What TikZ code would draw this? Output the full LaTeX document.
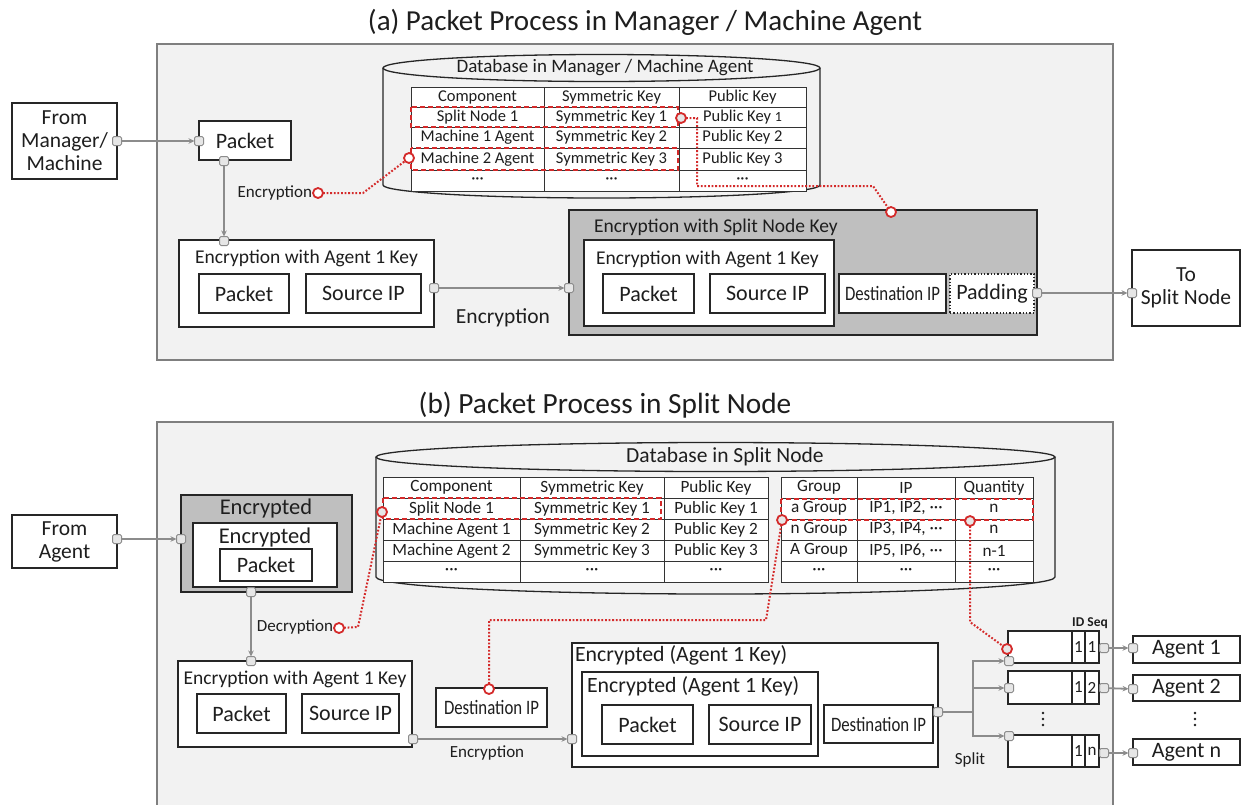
\documentclass[tikz,border=0pt]{standalone}
\usepackage{fontspec}
\setmainfont{Carlito}
\newfontfamily\narrowfont[FakeStretch=0.82]{Carlito}
\usetikzlibrary{arrows.meta}
\definecolor{framebg}{HTML}{F2F2F2}
\definecolor{frameln}{HTML}{7F7F7F}
\definecolor{greybox}{HTML}{BFBFBF}
\definecolor{portfill}{HTML}{E6E6E6}
\definecolor{portln}{HTML}{8C8C8C}
\definecolor{connln}{HTML}{8C8C8C}
\definecolor{keyred}{HTML}{D42A2A}
\definecolor{ink}{HTML}{1E1E1E}
\newcommand\fsz[2]{\fontsize{#1}{#2}\selectfont}
\newcommand\smallone{{\fsz{14}{14}1}}
% box from its top-left (x1,y1) to its bottom-right (x2,y2)
\newcommand\mkbox[7]{\node[#6, anchor=north west, minimum width={(#4-#2)*1pt}, minimum height={(#5-#3)*1pt}] (#1) at (#2,#3) {#7};}
\begin{document}
\begin{tikzpicture}[x=1pt,y=-1pt,
  every node/.style={text=ink, inner sep=0pt, outer sep=0pt},
  frame/.style={draw=frameln, line width=2pt, fill=framebg},
  box/.style={draw=black!85, line width=1.3pt, fill=white, font=\fsz{22}{25}},
  gbox/.style={box, fill=greybox},
  padbox/.style={box, dotted, line width=1.4pt},
  port/.style={draw=portln, line width=1pt, fill=portfill, minimum size=9pt, rounded corners=1.5pt},
  conn/.style={draw=connln, line width=1.8pt, -{Stealth[length=6pt,width=5.5pt]}},
  plain/.style={draw=connln, line width=1.8pt},
  rdot/.style={circle, draw=keyred, line width=1.8pt, fill=portfill, minimum size=10pt},
  rlink/.style={draw=keyred, line width=2pt, dash pattern=on 1.8pt off 1.8pt},
  rsel/.style={draw=keyred, line width=1.8pt, dash pattern=on 5pt off 3pt},
  tbl/.style={draw=black!80, line width=1pt},
  cyl/.style={draw=black!85, line width=1.3pt, fill=framebg},
  cell/.style={font=\fsz{16.5}{18}},
  cellb/.style={font=\fsz{17.2}{19}},
  lbl/.style={font=\fsz{17}{20}},
  ttl/.style={font=\fsz{19.5}{23}},
  dst/.style={box, font=\narrowfont\fsz{20.5}{23}},
  ellipsisdot/.style={circle, fill=ink, minimum size=2.6pt},
]
\useasboundingbox (0,0) rectangle (1241,804);
\clip (0,0) rectangle (1241,804);
\fill[white] (0,0) rectangle (1241,804);

%% ---------------- (a) Manager / Machine Agent ----------------
\node[font=\fsz{29}{33}] (titleA) at (645,22) {(a) Packet Process in Manager / Machine Agent};
\draw[frame] (157,44) rectangle (1113,360);

% database cylinder
\draw[cyl] (383,68) -- (383,185) .. controls (383,192.2) and (480.8,198) .. (601.5,198)
  .. controls (722.2,198) and (820,192.2) .. (820,185) -- (820,68);
\draw[cyl] (601.5,68) ellipse [x radius=218.5, y radius=13.5];
\node[font=\fsz{19}{22}] (dbA) at (605,68) {Database in Manager / Machine Agent};
\draw[tbl, fill=white] (411,87) rectangle (806,191);
\foreach \xx in {544,679} \draw[tbl] (\xx,87) -- (\xx,191);
\foreach \yy in {107,127,148,170} \draw[tbl] (411,\yy) -- (806,\yy);
\foreach \yy/\ca/\cb/\cc [count=\i] in {
  97/Component/Symmetric Key/Public Key,
  117/Split Node 1/Symmetric Key 1/Public Key \smallone,
  137.5/Machine 1 Agent/Symmetric Key 2/Public Key 2,
  159/Machine 2 Agent/Symmetric Key 3/Public Key 3,
  180.5/···/···/···}{
  \node[cell] (ka-\i-a) at (477.5,\yy) {\ca};
  \node[cell] (ka-\i-b) at (611.5,\yy) {\cb};
  \node[cell] (ka-\i-c) at (742.5,\yy) {\cc};
}
\draw[rsel] (411,107) rectangle (678,127);
\draw[rsel] (411,148) rectangle (678,170);

% boxes
\mkbox{fromA}{12}{103}{117}{179}{box, align=center, font=\fsz{21.5}{23}}{From\\Manager/\\Machine}
\mkbox{pkA}{199}{121}{291}{160}{box}{Packet}
\mkbox{encA}{179}{240}{434}{327}{box}{}
\node[ttl] (encAt) at (306.5,258) {Encryption with Agent 1 Key};
\mkbox{encApk}{199}{274}{289}{313}{box}{Packet}
\mkbox{encAsrc}{306}{274}{421}{313}{box}{Source IP}

\mkbox{snk}{569}{210}{1037}{335}{gbox}{}
\node[ttl, anchor=west] (snkt) at (594,227) {Encryption with Split Node Key};
\mkbox{snkin}{584}{240}{834}{326}{box}{}
\node[ttl, anchor=west] (snkint) at (596,259) {Encryption with Agent 1 Key};
\mkbox{snkpk}{603}{274}{694}{313}{box}{Packet}
\mkbox{snksrc}{710}{274}{825}{313}{box}{Source IP}
\mkbox{snkdst}{839}{274}{946}{313}{dst}{Destination IP}
\mkbox{snkpad}{950}{274}{1034}{313}{padbox}{Padding}
\mkbox{toSN}{1132}{250}{1240}{326}{box, align=center, font=\fsz{21.5}{23}}{To\\Split Node}

% ports and flow
\node[port] (pA1) at (117,141) {};
\node[port] (pA2) at (199,141) {};
\node[port] (pA3) at (224,161) {};
\node[port] (pA4) at (224,241) {};
\node[port] (pA5) at (434,288) {};
\node[port] (pA6) at (569,288) {};
\node[port] (pA7) at (1037,293) {};
\node[port] (pA8) at (1132,293) {};
\draw[conn] (pA1) -- (pA2);
\draw[conn] (pA3) -- (pA4);
\draw[conn] (pA5) -- (pA6);
\draw[conn] (pA7) -- (pA8);
\node[font=\fsz{21.5}{24}] (encLblA) at (503,318) {Encryption};
\node[lbl, anchor=east] (encLblA2) at (312,193) {Encryption};

% key lookups
\node[rdot, fill=white] (rA1) at (318,193) {};
\node[rdot, fill=white] (rA2) at (409,158) {};
\node[rdot] (rA3) at (681,118) {};
\node[rdot, fill=white] (rA4) at (891,212) {};
\coordinate (bA1) at (363,193);
\coordinate (bA2) at (697,118);
\coordinate (bA3) at (697,186);
\coordinate (bA4) at (873,186);
\draw[rlink] (rA1) -- (bA1) -- (rA2);
\draw[rlink] (rA3) -- (bA2) -- (bA3) -- (bA4) -- (rA4);

%% ---------------- (b) Split Node ----------------
\node[font=\fsz{29.3}{33}] (titleB) at (605,405) {(b) Packet Process in Split Node};
\draw[frame] (157,422) rectangle (1113,840);

% database cylinder
\draw[cyl] (376,457) -- (376,577) .. controls (376,586.4) and (528,594) .. (715.5,594)
  .. controls (903,594) and (1055,586.4) .. (1055,577) -- (1055,457);
\draw[cyl] (715.5,457) ellipse [x radius=339.5, y radius=14.5];
\node[font=\fsz{21.5}{24}] (dbB) at (725,457) {Database in Split Node};
\draw[tbl, fill=white] (383,477) rectangle (768,582);
\foreach \xx in {520,664} \draw[tbl] (\xx,477) -- (\xx,582);
\draw[tbl, fill=white] (781,477) rectangle (1033,582);
\foreach \xx in {857,955} \draw[tbl] (\xx,477) -- (\xx,582);
\foreach \yy in {498,519,540,561} {
  \draw[tbl] (383,\yy) -- (768,\yy);
  \draw[tbl] (781,\yy) -- (1033,\yy);
}
\foreach \yy/\ca/\cb/\cc [count=\i] in {
  487.5/Component/Symmetric Key/Public Key,
  508.5/Split Node 1/Symmetric Key 1/Public Key 1,
  529.5/Machine Agent 1/Symmetric Key 2/Public Key 2,
  550.5/Machine Agent 2/Symmetric Key 3/Public Key 3,
  571.5/···/···/···}{
  \node[cellb] (kb-\i-a) at (451.5,\yy) {\ca};
  \node[cellb] (kb-\i-b) at (592,\yy) {\cb};
  \node[cellb] (kb-\i-c) at (716,\yy) {\cc};
}
\foreach \yy/\ca/\cb/\cc [count=\i] in {
  487.5/Group/IP/Quantity,
  508.5/a Group/{IP1, IP2, ···}/n,
  529.5/n Group/{IP3, IP4, ···}/n,
  550.5/A Group/{IP5, IP6, ···}/n-1,
  571.5/···/···/···}{
  \node[cellb] (gb-\i-a) at (819,\yy) {\ca};
  \node[cellb] (gb-\i-b) at (906,\yy) {\cb};
  \node[cellb] (gb-\i-c) at (994,\yy) {\cc};
}
\draw[rsel] (383,498) rectangle (661,519);
\draw[rsel] (781,499) rectangle (1033,520);

% boxes
\mkbox{fromB}{12}{515}{117}{568}{box, align=center, font=\fsz{21.5}{23}}{From\\Agent}
\mkbox{encB}{181}{495}{352}{592}{gbox}{}
\node[font=\fsz{22.5}{25}] (encBt) at (266,508) {Encrypted};
\mkbox{encBin}{193}{523}{337}{587}{box}{}
\node[font=\fsz{22.5}{25}] (encBint) at (265,537) {Encrypted};
\mkbox{encBpk}{220}{549}{312}{581}{box}{Packet}

\mkbox{a1B}{178}{661}{412}{747}{box}{}
\node[ttl] (a1Bt) at (295,679) {Encryption with Agent 1 Key};
\mkbox{a1Bpk}{197}{694}{286}{733}{box}{Packet}
\mkbox{a1Bsrc}{302}{694}{399}{733}{box}{Source IP}

\mkbox{dstB}{436}{688}{547}{727}{dst}{Destination IP}

\mkbox{outB}{572}{643}{938}{767}{box}{}
\node[font=\fsz{21.8}{24}, anchor=west] (outBt) at (575,655) {Encrypted (Agent 1 Key)};
\mkbox{outBin}{582}{672}{818}{756}{box}{}
\node[font=\fsz{21.8}{24}, anchor=west] (outBint) at (587,686) {Encrypted (Agent 1 Key)};
\mkbox{outBpk}{602}{705}{693}{744}{box}{Packet}
\mkbox{outBsrc}{709}{705}{811}{744}{box}{Source IP}
\mkbox{outBdst}{824}{705}{933}{743}{dst}{Destination IP}

% per-agent queues with ID and sequence number
\foreach \nm/\ya/\yb/\sq in {q1/631/663/1, q2/671/704/2, q3/735/767/n} {
  \mkbox{\nm}{1008}{\ya}{1099}{\yb}{box}{}
  \draw[line width=1.3pt, draw=black!85] (1072,\ya) -- (1072,\yb) (1085,\ya) -- (1085,\yb);
  \node[font=\fsz{17}{19}] (\nm-id) at (1078.5,{(\ya+\yb)/2}) {1};
  \node[font=\fsz{17}{19}] (\nm-sq) at (1092,{(\ya+\yb)/2}) {\sq};
}
\node[font=\bfseries\fsz{13.5}{15}] (idseq) at (1090,623) {ID Seq};
% vertical ellipses between the queues and between the agents
\foreach \xx/\tag in {1043/q, 1195/ag} {
  \foreach \yy [count=\k] in {713,719,725}
    \node[ellipsisdot] (vd-\tag-\k) at (\xx,\yy) {};
}

\mkbox{ag1}{1133}{636}{1240}{663}{box}{Agent 1}
\mkbox{ag2}{1133}{675}{1240}{701}{box}{Agent 2}
\mkbox{agn}{1133}{739}{1240}{765}{box}{Agent n}

% ports and flow
\node[port] (pB1) at (117,539) {};
\node[port] (pB2) at (181,539) {};
\node[port] (pB3) at (251,592) {};
\node[port] (pB4) at (251,661) {};
\node[port] (pB5) at (413,739) {};
\node[port] (pB6) at (572,739) {};
\node[port] (pB7) at (938,712) {};
\node[port] (pq1i) at (1009,661) {};
\node[port] (pq2i) at (1009,688) {};
\node[port] (pq3i) at (1009,736) {};
\node[port] (pq1o) at (1104,648) {};
\node[port] (pq2o) at (1104,688) {};
\node[port] (pq3o) at (1104,753) {};
\node[port] (pag1) at (1133,648) {};
\node[port] (pag2) at (1133,689) {};
\node[port] (pagn) at (1133,753) {};
\coordinate (split) at (973,712);
\draw[conn] (pB1) -- (pB2);
\draw[conn] (pB3) -- (pB4);
\draw[conn] (pB5) -- (pB6);
\draw[plain] (pB7) -- (split);
\draw[conn] (split) |- (pq1i);
\draw[conn] (split) |- (pq2i);
\draw[conn] (split) |- (pq3i);
\draw[conn] (pq1o) -- (pag1);
\draw[conn] (pq2o) -- (pag2);
\draw[conn] (pq3o) -- (pagn);
\node[lbl, anchor=east] (decLbl) at (333,627) {Decryption};
\node[lbl] (encLblB) at (487,753) {Encryption};
\node[lbl] (splitLbl) at (970,760) {Split};

% key and group lookups
\node[rdot, fill=white] (rB1) at (339,628) {};
\node[rdot] (rB2) at (382,512) {};
\node[rdot, fill=white] (rB3) at (489,689) {};
\node[rdot] (rB4) at (782,520) {};
\node[rdot] (rB5) at (970,521) {};
\node[rdot] (rB6) at (1007,649) {};
\coordinate (bB1) at (358,627);
\coordinate (bB2) at (489,620);
\coordinate (bB3) at (766,620);
\coordinate (bB4) at (970,622);
\draw[rlink] (rB1) -- (bB1) -- (rB2);
\draw[rlink] (rB3) -- (bB2) -- (bB3) -- (rB4);
\draw[rlink] (rB5) -- (bB4) -- (rB6);
\end{tikzpicture}
\end{document}
